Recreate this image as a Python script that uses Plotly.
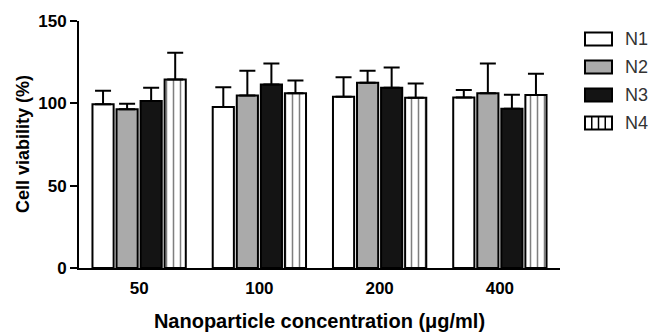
import plotly.graph_objects as go

categories = ["50", "100", "200", "400"]
series_names = ["N1", "N2", "N3", "N4"]
n1 = [99.4, 97.8, 104.0, 103.6]
n1_err = [8.2, 11.9, 11.8, 4.5]
n2 = [96.4, 104.8, 112.5, 106.1]
n2_err = [3.4, 15.0, 7.3, 18.1]
n3 = [101.4, 111.5, 109.5, 96.7]
n3_err = [8.1, 12.7, 12.3, 8.5]
n4 = [114.5, 106.1, 103.4, 105.0]
n4_err = [16.2, 7.8, 8.7, 12.9]
y_ticks = [0, 50, 100, 150]

values = [n1, n2, n3, n4]
errors = [n1_err, n2_err, n3_err, n4_err]
fills = ["white", "#aaaaaa", "#141414", "white"]

W, H = 654, 332
L, R, T, B = 79, 94, 21, 64
PW, PH = W - L - R, H - T - B

def px(x):
    return (x - L) / PW

def py(y):
    return (H - B - y) / PH

FONT = "Liberation Sans, Arial, sans-serif"

fig = go.Figure()
for i, name in enumerate(series_names):
    marker = dict(color=fills[i], line=dict(color="black", width=2))
    if i == 3:
        marker["pattern"] = dict(shape="|", fgcolor="black", bgcolor="white",
                                 size=7, solidity=0.22)
    fig.add_trace(go.Bar(
        name=name, x=categories, y=values[i], marker=marker,
        error_y=dict(type="data", array=errors[i], arrayminus=[0] * 4,
                     symmetric=False, color="black", thickness=2, width=8),
        showlegend=False,
    ))

shapes = []
annotations = []
for i, name in enumerate(series_names):
    cy = 39 + 28 * i
    x0, x1 = 585, 612
    y0, y1 = cy - 6.5, cy + 6.5
    shapes.append(dict(type="rect", xref="paper", yref="paper",
                       x0=px(x0), x1=px(x1), y0=py(y1), y1=py(y0),
                       fillcolor=fills[i], line=dict(color="black", width=2)))
    if i == 3:
        for k in range(1, 4):
            xx = x0 + (x1 - x0) * k / 4
            shapes.append(dict(type="line", xref="paper", yref="paper",
                               x0=px(xx), x1=px(xx), y0=py(y1), y1=py(y0),
                               line=dict(color="black", width=1.5)))
    annotations.append(dict(text=name, xref="paper", yref="paper",
                            x=px(623), y=py(cy), xanchor="left", yanchor="middle",
                            showarrow=False,
                            font=dict(family=FONT, size=18, color="#333333")))

annotations.append(dict(text="Cell viability (%)", xref="paper", yref="paper",
                        x=px(23), y=py(144), xanchor="center", yanchor="middle",
                        textangle=-90, showarrow=False,
                        font=dict(family=FONT, size=18, color="black", weight="bold")))

fig.update_layout(
    width=W, height=H,
    margin=dict(l=L, r=R, t=T, b=B, pad=0, autoexpand=False),
    plot_bgcolor="white", paper_bgcolor="white",
    barmode="group", bargap=0.2, bargroupgap=0.12,
    font=dict(family=FONT, color="black"),
    shapes=shapes, annotations=annotations,
    xaxis=dict(
        type="category", range=[-0.5, 3.5], automargin=False,
        showline=True, linecolor="black", linewidth=2,
        ticks="outside", ticklen=4, tickcolor="rgba(0,0,0,0)",
        showgrid=False, zeroline=False,
        tickfont=dict(family=FONT, size=17, color="black", weight="bold"),
        title=dict(text="Nanoparticle concentration (μg/ml)", standoff=17,
                   font=dict(family=FONT, size=20, color="black", weight="bold")),
    ),
    yaxis=dict(
        range=[0, 150], tickvals=y_ticks, automargin=False,
        showline=True, linecolor="black", linewidth=2,
        ticks="outside", ticklen=7, tickwidth=2, tickcolor="black",
        showgrid=False, zeroline=False,
        tickfont=dict(family=FONT, size=17, color="black", weight="bold"),
    ),
)

fig.write_html("out.html", config={"displayModeBar": False},
               post_script="document.body.style.margin='0';document.body.style.padding='0';")
